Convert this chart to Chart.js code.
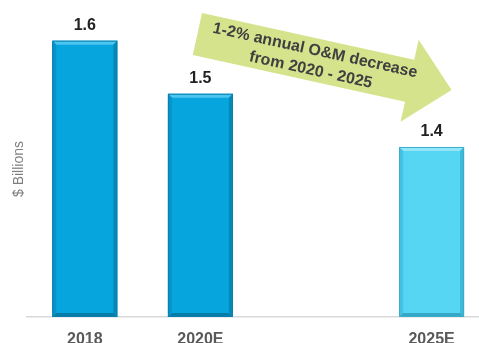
<!DOCTYPE html>
<html>
<head>
<meta charset="utf-8">
<script src="https://cdn.jsdelivr.net/npm/chart.js@4"></script>
<style>
  html, body { margin: 0; padding: 0; background: #fff; overflow: hidden; }
</style>
</head>
<body>
<canvas id="om-chart" width="479" height="343"></canvas>
<script>
// O&M spend, $ billions. Slot 2 is left empty for the 2021-2024 gap.
const categories = ['2018', '2020E', '2025E'];
const slots = [0, 1, 3];
const omCost = [1.6, 1.5, 1.4];
const barColors = ['#07a5dd', '#07a5dd', '#57d6f4'];
const arrowLines = ['1-2% annual O&M decrease', 'from 2020 - 2025'];
const yMin = 1.08;
const yMax = 1.637;

const FONT = '"Liberation Sans", Arial, sans-serif';

// Bevelled edges on every bar: light top, darker sides and bottom.
const bevelPlugin = {
  id: 'bevel',
  afterDatasetsDraw(chart) {
    const ctx = chart.ctx;
    const meta = chart.getDatasetMeta(0);
    meta.data.forEach((bar, i) => {
      const light = categories[i] === '2025E';
      const l = bar.x - bar.width / 2, r = bar.x + bar.width / 2;
      const t = bar.y, b = bar.base;
      const e = 4;
      const quad = (pts, color) => {
        ctx.beginPath();
        ctx.moveTo(pts[0][0], pts[0][1]);
        pts.slice(1).forEach(p => ctx.lineTo(p[0], p[1]));
        ctx.closePath();
        ctx.fillStyle = color;
        ctx.fill();
      };
      ctx.save();
      quad([[l, t], [r, t], [r - e, t + e], [l + e, t + e]], light ? '#93e6f9' : '#4cc6f1');
      quad([[l, t], [l + e, t + e], [l + e, b - e], [l, b]], light ? '#42c3e4' : '#0894c6');
      quad([[r, t], [r - e, t + e], [r - e, b - e], [r, b]], light ? '#3cb8d8' : '#0789b8');
      quad([[l, b], [r, b], [r - e, b - e], [l + e, b - e]], light ? '#35a8c6' : '#067ca8');
      ctx.strokeStyle = light ? '#3aaccb' : '#0a7fac';
      ctx.lineWidth = 1;
      ctx.strokeRect(l + 0.5, t + 0.5, bar.width - 1, b - t - 1);
      ctx.restore();
    });
  }
};

// Value above each bar, taken from the same data.
const valueLabelPlugin = {
  id: 'valueLabels',
  afterDatasetsDraw(chart) {
    const ctx = chart.ctx;
    const meta = chart.getDatasetMeta(0);
    ctx.save();
    ctx.font = 'bold 16px ' + FONT;
    ctx.fillStyle = '#222';
    ctx.textAlign = 'center';
    ctx.textBaseline = 'middle';
    meta.data.forEach((bar, i) => {
      ctx.fillText(omCost[i].toFixed(1), bar.x, bar.y - 15);
    });
    ctx.restore();
  }
};

// Green arrow from 2020E toward 2025E with the decrease note on it.
const trendArrowPlugin = {
  id: 'trendArrow',
  afterDraw(chart) {
    const ctx = chart.ctx;
    const xs = chart.scales.x;
    const x0 = xs.getPixelForValue(slots[1]) - 3, y0 = 34;
    const x1 = xs.getPixelForValue(slots[2]) + 20, y1 = 90;
    const len = Math.hypot(x1 - x0, y1 - y0);
    const ang = Math.atan2(y1 - y0, x1 - x0);
    const shaft = 21.5, headLen = 43, headHalf = 42;

    ctx.save();
    ctx.translate(x0, y0);
    ctx.rotate(ang);
    ctx.beginPath();
    ctx.moveTo(0, -shaft);
    ctx.lineTo(len - headLen, -shaft);
    ctx.lineTo(len - headLen, -headHalf);
    ctx.lineTo(len, 0);
    ctx.lineTo(len - headLen, headHalf);
    ctx.lineTo(len - headLen, shaft);
    ctx.lineTo(0, shaft);
    ctx.closePath();
    ctx.fillStyle = '#d5e38d';
    ctx.fill();

    ctx.font = 'bold 16px ' + FONT;
    ctx.fillStyle = '#404040';
    ctx.textAlign = 'center';
    ctx.textBaseline = 'middle';
    ctx.fillText(arrowLines[0], 118.5, -9);
    ctx.fillText(arrowLines[1], 118.5, 11);
    ctx.restore();
  }
};

new Chart(document.getElementById('om-chart'), {
  type: 'bar',
  data: {
    datasets: [{
      label: 'O&M',
      data: omCost.map((v, i) => ({ x: slots[i], y: v })),
      backgroundColor: barColors,
      base: yMin,
      categoryPercentage: 1,
      barPercentage: 0.562
    }]
  },
  options: {
    responsive: false,
    animation: false,
    devicePixelRatio: 1,
    layout: { padding: { top: 21, right: 0, bottom: 0, left: 0 } },
    plugins: {
      legend: { display: false },
      tooltip: { enabled: false }
    },
    scales: {
      x: {
        type: 'linear',
        offset: false,
        min: -0.5,
        max: 3.41,
        grid: { display: false },
        border: { display: true, color: '#d9d9d9', width: 1.5 },
        afterBuildTicks(scale) {
          scale.ticks = slots.map(v => ({ value: v }));
        },
        afterFit(scale) {
          scale.height = 26;
        },
        ticks: {
          color: '#595959',
          font: { family: FONT, size: 16, weight: 'bold' },
          padding: 5,
          callback: (v) => categories[slots.indexOf(v)] ?? ''
        }
      },
      y: {
        min: yMin,
        max: yMax,
        grid: { display: false },
        border: { display: false },
        ticks: { display: false },
        afterFit(scale) {
          scale.width = 27;
        },
        title: {
          display: true,
          text: '$ Billions',
          color: '#7f7f7f',
          font: { family: FONT, size: 14 },
          padding: { top: 11, bottom: 0 }
        }
      }
    }
  },
  plugins: [bevelPlugin, valueLabelPlugin, trendArrowPlugin]
});
</script>
</body>
</html>
